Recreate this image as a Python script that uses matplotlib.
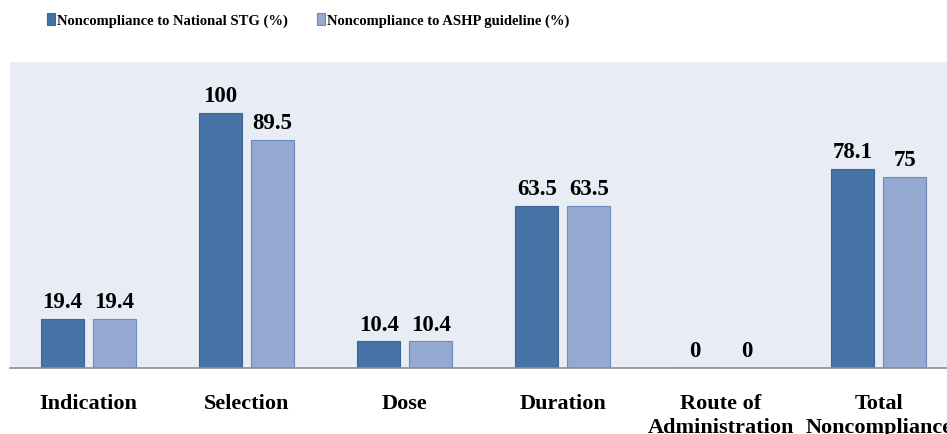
import numpy as np
import matplotlib.pyplot as plt

categories = ["Indication", "Selection", "Dose", "Duration", "Route of\nAdministration", "Total\nNoncompliance"]
national_stg = [19.4, 100, 10.4, 63.5, 0, 78.1]
ashp = [19.4, 89.5, 10.4, 63.5, 0, 75]
series_names = ["Noncompliance to National STG (%)", "Noncompliance to ASHP guideline (%)"]

dark = "#4672A6"
light = "#95A9D1"

plt.rcParams['font.family'] = ['Liberation Serif', 'DejaVu Serif']

fig = plt.figure(figsize=(9.47, 4.35), dpi=100)
ax = fig.add_axes([9.5 / 947, 66 / 435, 948.5 / 947, 306 / 435])
ax.set_facecolor("#E8ECF4")

x = np.arange(len(categories))
w = 43 / 158.1
gap = 9 / 158.1
b1 = ax.bar(x - (w + gap) / 2, national_stg, w, color=dark, edgecolor="#3E6595", linewidth=0.8, label=series_names[0])
b2 = ax.bar(x + (w + gap) / 2, ashp, w, color=light, edgecolor="#6B8BC0", linewidth=0.8, label=series_names[1])

for bars, vals in ((b1, national_stg), (b2, ashp)):
    for r, v in zip(bars, vals):
        ax.annotate(f"{v:g}", (r.get_x() + r.get_width() / 2, v), xytext=(0, 8.5), textcoords="offset points",
                    ha="center", va="baseline", fontsize=16.5, fontweight="bold")

ax.set_xlim(-0.5, len(categories) - 0.5)
ax.set_ylim(0, 120)
ax.set_yticks([])
ax.set_xticks(x)
ax.set_xticklabels(categories, fontsize=16, fontweight="bold", linespacing=1.3)
ax.tick_params(axis="x", length=0, pad=18)
for s in ("top", "left", "right"):
    ax.spines[s].set_visible(False)
ax.spines["bottom"].set_color("#8C8C8C")
ax.spines["bottom"].set_linewidth(1.2)

fig.legend(handles=[b1, b2], loc="center left", bbox_to_anchor=(47 / 947, 0.952), ncol=2, frameon=False,
           prop={"size": 10.5, "weight": "bold"}, borderaxespad=0, borderpad=0,
           handlelength=0.55, handleheight=0.9, handletextpad=0.15, columnspacing=2.0)

fig.savefig("out.png", dpi=100)
